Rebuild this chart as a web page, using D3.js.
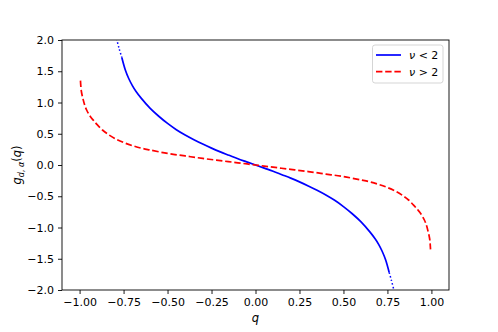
<!DOCTYPE html>
<html>
<head>
<meta charset="utf-8">
<script src="https://cdn.jsdelivr.net/npm/d3@7"></script>
<style>
  body { margin: 0; background: #fff; }
  svg text { font-family: "DejaVu Sans", sans-serif; }
</style>
</head>
<body>
<svg width="498" height="332"></svg>
<script>
// ν < 2 curve (blue)
const blueQ = [-0.76, -0.74, -0.72, -0.70, -0.68, -0.65, -0.60, -0.55, -0.50, -0.45, -0.40, -0.35, -0.30, -0.25, -0.20, -0.15, -0.10, -0.05, 0,
               0.05, 0.10, 0.15, 0.20, 0.25, 0.30, 0.35, 0.40, 0.45, 0.50, 0.55, 0.60, 0.65, 0.68, 0.70, 0.72, 0.74, 0.76];
const blueG = [1.72, 1.52, 1.38, 1.27, 1.18, 1.07, 0.91, 0.78, 0.665, 0.565, 0.48, 0.405, 0.335, 0.27, 0.21, 0.155, 0.10, 0.05, 0,
               -0.05, -0.10, -0.155, -0.21, -0.27, -0.335, -0.405, -0.48, -0.565, -0.665, -0.78, -0.91, -1.07, -1.18, -1.27, -1.38, -1.52, -1.72];
// dotted tails of the blue curve
const blueTopQ = [-0.79, -0.775, -0.76];
const blueTopG = [2.02, 1.86, 1.72];
const blueBotQ = [0.76, 0.772, 0.785];
const blueBotG = [-1.72, -1.84, -1.98];

// ν > 2 curve (red)
const redQ = [-0.995, -0.99, -0.98, -0.97, -0.96, -0.94, -0.92, -0.90, -0.87, -0.84, -0.80, -0.75, -0.70, -0.65, -0.60, -0.50, -0.40, -0.30, -0.20, -0.10, 0,
              0.10, 0.20, 0.30, 0.40, 0.50, 0.60, 0.65, 0.70, 0.75, 0.80, 0.84, 0.87, 0.90, 0.92, 0.94, 0.96, 0.97, 0.98, 0.99, 0.995];
const redG = [1.35, 1.18, 1.05, 0.95, 0.88, 0.78, 0.71, 0.645, 0.56, 0.495, 0.425, 0.36, 0.31, 0.27, 0.24, 0.185, 0.145, 0.105, 0.07, 0.035, 0,
              -0.035, -0.07, -0.105, -0.145, -0.185, -0.24, -0.27, -0.31, -0.36, -0.425, -0.495, -0.56, -0.645, -0.71, -0.78, -0.88, -0.95, -1.05, -1.18, -1.35];

const xTicks = [-1.0, -0.75, -0.5, -0.25, 0, 0.25, 0.5, 0.75, 1.0];
const yTicks = [-2.0, -1.5, -1.0, -0.5, 0, 0.5, 1.0, 1.5, 2.0];

const svg = d3.select('svg');
const mLeft = 62, mTop = 40, w = 387, h = 250;

const x = d3.scaleLinear().domain([-1.1, 1.1]).range([mLeft, mLeft + w]);
const y = d3.scaleLinear().domain([-2, 2]).range([mTop + h, mTop]);

const minus = s => s.replace('-', '\u2212');

// clip for curves
svg.append('clipPath').attr('id', 'clip')
    .append('rect').attr('x', mLeft).attr('y', mTop).attr('width', w).attr('height', h);

const line = d3.line().x(d => x(d[0])).y(d => y(d[1])).curve(d3.curveCatmullRom.alpha(0.5));
const pts = (qs, gs) => qs.map((q, i) => [q, gs[i]]);

const plot = svg.append('g').attr('clip-path', 'url(#clip)');

plot.append('path').datum(pts(blueQ, blueG))
    .attr('d', line).attr('fill', 'none').attr('stroke', 'blue').attr('stroke-width', 1.7);
[[blueTopQ, blueTopG], [blueBotQ, blueBotG]].forEach(([qs, gs]) => {
    plot.append('path').datum(pts(qs, gs))
        .attr('d', line).attr('fill', 'none').attr('stroke', 'blue')
        .attr('stroke-width', 1.5).attr('stroke-dasharray', '1.5,2.2');
});
plot.append('path').datum(pts(redQ, redG))
    .attr('d', line).attr('fill', 'none').attr('stroke', 'red')
    .attr('stroke-width', 1.7).attr('stroke-dasharray', '6.4,2.8');

// axes
const xAxis = svg.append('g').attr('transform', `translate(0,${mTop + h})`)
    .call(d3.axisBottom(x).tickValues(xTicks).tickSize(4).tickPadding(4)
        .tickFormat(d => minus(d3.format('.2f')(d))));
const yAxis = svg.append('g').attr('transform', `translate(${mLeft},0)`)
    .call(d3.axisLeft(y).tickValues(yTicks).tickSize(4).tickPadding(4)
        .tickFormat(d => minus(d3.format('.1f')(d))));
[xAxis, yAxis].forEach(a => {
    a.select('.domain').remove();
    a.selectAll('text').attr('font-size', 11).attr('fill', '#000').attr('font-family', 'DejaVu Sans');
    a.selectAll('line').attr('stroke', '#000').attr('stroke-width', 0.9);
});

// frame
svg.append('rect').attr('x', mLeft).attr('y', mTop).attr('width', w).attr('height', h)
    .attr('fill', 'none').attr('stroke', '#000').attr('stroke-width', 0.9);

// axis labels
svg.append('text').attr('x', x(0)).attr('y', 322).attr('text-anchor', 'middle')
    .attr('font-size', 11.5).attr('font-style', 'italic').text('q');

const yl = svg.append('text').attr('transform', `translate(21,${mTop + h / 2}) rotate(-90)`)
    .attr('text-anchor', 'middle').attr('font-size', 11.5);
yl.append('tspan').attr('font-style', 'italic').text('g');
yl.append('tspan').attr('font-style', 'italic').attr('font-size', 8).attr('dy', 2.5).text('d');
yl.append('tspan').attr('font-size', 8).text(',');
yl.append('tspan').attr('font-style', 'italic').attr('font-size', 8).text(' α');
yl.append('tspan').attr('dy', -2.5).text('(');
yl.append('tspan').attr('font-style', 'italic').text('q');
yl.append('tspan').text(')');

// legend
const legend = svg.append('g');
legend.append('rect').attr('x', 372.5).attr('y', 45).attr('width', 70.5).attr('height', 38)
    .attr('rx', 2.5).attr('fill', 'rgba(255,255,255,0.8)').attr('stroke', '#d0d0d0').attr('stroke-width', 0.9);
const items = [
    { label: 'ν < 2', color: 'blue', dash: null },
    { label: 'ν > 2', color: 'red', dash: '6.4,2.8' }
];
items.forEach((it, i) => {
    const yy = 55 + i * 16.7;
    legend.append('line').attr('x1', 376).attr('x2', 401).attr('y1', yy).attr('y2', yy)
        .attr('stroke', it.color).attr('stroke-width', 1.7).attr('stroke-dasharray', it.dash);
    const t = legend.append('text').attr('x', 409).attr('y', yy + 4).attr('font-size', 11);
    t.append('tspan').attr('font-style', 'italic').text('ν');
    t.append('tspan').text(it.label.slice(1));
});
</script>
</body>
</html>
